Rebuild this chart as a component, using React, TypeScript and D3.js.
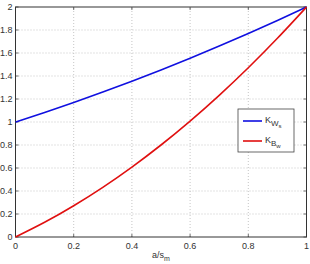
import * as d3 from "d3";

const xs = [0, 0.1, 0.2, 0.3, 0.4, 0.5, 0.6, 0.7, 0.8, 0.9, 1.0];
const kWs = [1, 1.083, 1.17, 1.26, 1.354, 1.452, 1.554, 1.66, 1.77, 1.883, 2.0];
const kBw = [0, 0.128, 0.272, 0.432, 0.608, 0.8, 1.008, 1.232, 1.472, 1.728, 2.0];
const xTicks = [0, 0.2, 0.4, 0.6, 0.8, 1];
const yTicks = [0, 0.2, 0.4, 0.6, 0.8, 1, 1.2, 1.4, 1.6, 1.8, 2];

const W = 310;
const H = 264;
const FONT = "'Liberation Sans', Arial, sans-serif";

export default function App() {
  const x = d3.scaleLinear().domain([0, 1]).range([15.5, 306.5]);
  const y = d3.scaleLinear().domain([0, 2]).range([237, 7]);
  const line = d3
    .line<number>()
    .x((_, i) => x(xs[i]))
    .y((d) => y(d))
    .curve(d3.curveNatural);

  const [x0, x1] = x.range();
  const [y0, y1] = y.range();

  return (
    <svg
      width={W}
      height={H}
      style={{ position: "absolute", left: 0, top: 0, background: "#fff" }}
      fontFamily={FONT}
    >
      {/* grid */}
      {xTicks.slice(1, -1).map((t) => (
        <line key={"gx" + t} x1={x(t)} x2={x(t)} y1={y0} y2={y1} stroke="#b8b8b8" strokeWidth={0.8} strokeDasharray="1,2" />
      ))}
      {yTicks.slice(1, -1).map((t) => (
        <line key={"gy" + t} x1={x0} x2={x1} y1={y(t)} y2={y(t)} stroke="#b8b8b8" strokeWidth={0.8} strokeDasharray="1,2" />
      ))}

      {/* ticks */}
      {xTicks.map((t) => (
        <g key={"tx" + t}>
          <line x1={x(t)} x2={x(t)} y1={y0} y2={y0 - 3} stroke="#333" strokeWidth={0.7} />
          <line x1={x(t)} x2={x(t)} y1={y1} y2={y1 + 3} stroke="#333" strokeWidth={0.7} />
          <text x={x(t)} y={y0 + 12} textAnchor="middle" fontSize={9} fill="#333">
            {t}
          </text>
        </g>
      ))}
      {yTicks.map((t) => (
        <g key={"ty" + t}>
          <line x1={x0} x2={x0 + 3} y1={y(t)} y2={y(t)} stroke="#333" strokeWidth={0.7} />
          <line x1={x1} x2={x1 - 3} y1={y(t)} y2={y(t)} stroke="#333" strokeWidth={0.7} />
          <text x={x0 - 3} y={y(t) + 3.3} textAnchor="end" fontSize={9} fill="#333">
            {t}
          </text>
        </g>
      ))}

      <rect x={x0} y={y1} width={x1 - x0} height={y0 - y1} fill="none" stroke="#333" strokeWidth={1} />

      {/* curves */}
      <path d={line(kWs) ?? ""} fill="none" stroke="#1010e0" strokeWidth={1.6} />
      <path d={line(kBw) ?? ""} fill="none" stroke="#e01010" strokeWidth={1.6} />

      {/* axis label */}
      <text x={161} y={258} textAnchor="middle" fontSize={9} fill="#333">
        a/s
        <tspan fontSize={7} dy={3}>m</tspan>
      </text>

      {/* legend */}
      <rect x={238} y={109} width={56} height={43} fill="#fff" stroke="#444" strokeWidth={0.8} />
      <line x1={243} x2={262} y1={121} y2={121} stroke="#1010e0" strokeWidth={1.6} />
      <text x={265} y={123} fontSize={9} fill="#333">
        K<tspan fontSize={8} dy={3}>W</tspan>
        <tspan fontSize={6} dy={2}>s</tspan>
      </text>
      <line x1={243} x2={262} y1={141} y2={141} stroke="#e01010" strokeWidth={1.6} />
      <text x={265} y={143} fontSize={9} fill="#333">
        K<tspan fontSize={8} dy={3}>B</tspan>
        <tspan fontSize={6} dy={2}>w</tspan>
      </text>
    </svg>
  );
}
